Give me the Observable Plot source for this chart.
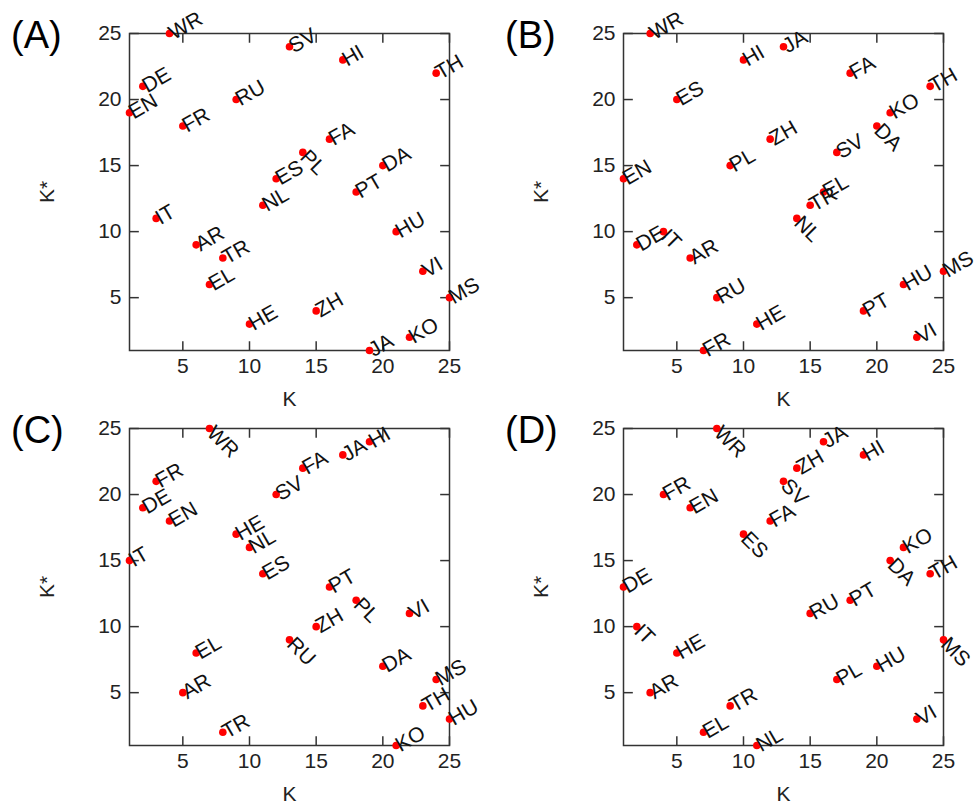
<!DOCTYPE html>
<html><head><meta charset="utf-8">
<script src="https://cdn.jsdelivr.net/npm/d3@7"></script>
<script src="https://cdn.jsdelivr.net/npm/@observablehq/plot@0.6"></script>
<style>
body{margin:0;background:#fff;font-family:"Liberation Sans",Arial,sans-serif;}
#wrap{position:relative;width:974px;height:807px;}
.p{position:absolute;}
.lt{position:absolute;font-size:38px;}
</style></head>
<body><div id="wrap"></div>
<script>
// language codes and (K, K*) per panel
const namesA = ["WR","SV","HI","TH","DE","RU","EN","FR","FA","PL","DA","ES","PT","NL","IT","HU","AR","TR","VI","EL","MS","ZH","HE","KO","JA"];
const kA     = [4,13,17,24,2,9,1,5,16,14,20,12,18,11,3,21,6,8,23,7,25,15,10,22,19];
const ksA    = [25,24,23,22,21,20,19,18,17,16,15,14,13,12,11,10,9,8,7,6,5,4,3,2,1];
const downA  = ["PL"];

const namesB = ["WR","JA","HI","FA","TH","ES","KO","DA","ZH","SV","PL","EN","EL","TR","NL","IT","DE","AR","MS","HU","RU","PT","HE","VI","FR"];
const kB     = [3,13,10,18,24,5,21,20,12,17,9,1,16,15,14,4,2,6,25,22,8,19,11,23,7];
const ksB    = [25,24,23,22,21,20,19,18,17,16,15,14,13,12,11,10,9,8,7,6,5,4,3,2,1];
const downB  = ["DA","NL","IT"];

const namesC = ["WR","HI","JA","FA","FR","SV","DE","EN","HE","NL","IT","ES","PT","PL","VI","ZH","RU","EL","DA","MS","AR","TH","HU","TR","KO"];
const kC     = [7,19,17,14,3,12,2,4,9,10,1,11,16,18,22,15,13,6,20,24,5,23,25,8,21];
const ksC    = [25,24,23,22,21,20,19,18,17,16,15,14,13,12,11,10,9,8,7,6,5,4,3,2,1];
const downC  = ["WR","PL","RU"];

const namesD = ["WR","JA","HI","ZH","SV","FR","EN","FA","ES","KO","DA","TH","DE","PT","RU","IT","MS","HE","HU","PL","AR","TR","VI","EL","NL"];
const kD     = [8,16,19,14,13,4,6,12,10,22,21,24,1,18,15,2,25,5,20,17,3,9,23,7,11];
const ksD    = [25,24,23,22,21,20,19,18,17,16,15,14,13,12,11,10,9,8,7,6,5,4,3,2,1];
const downD  = ["WR","SV","ES","DA","IT","MS"];

const ticks = [5,10,15,20,25];

const panels = [
  {tag:"(A)", names:namesA, k:kA, ks:ksA, down:downA, left:0, top:0},
  {tag:"(B)", names:namesB, k:kB, ks:ksB, down:downB, left:494, top:0},
  {tag:"(C)", names:namesC, k:kC, ks:ksC, down:downC, left:0, top:395},
  {tag:"(D)", names:namesD, k:kD, ks:ksD, down:downD, left:494, top:395}
];

const wrap = document.getElementById("wrap");
for (const p of panels) {
  const data = p.names.map((n, i) => ({n, k: p.k[i], ks: p.ks[i], down: p.down.includes(n)}));
  const tl = 0.7; // inward tick length in data units
  const chart = Plot.plot({
    width: 474, height: 405,
    marginLeft: 129, marginRight: 25, marginTop: 33, marginBottom: 55,
    style: {fontFamily: "Liberation Sans, Arial, sans-serif", fontSize: "21px", color: "#222", overflow: "visible"},
    x: {domain: [1, 25], ticks, tickSize: 0, tickPadding: 8, label: "K", labelAnchor: "center", labelOffset: 55, labelArrow: "none"},
    y: {domain: [1, 25], ticks, tickSize: 0, tickPadding: 8, label: "K*", labelAnchor: "center", labelOffset: 90, labelArrow: "none"},
    marks: [
      Plot.link(ticks, {x1: d => d, x2: d => d, y1: 1, y2: 1 + tl, stroke: "#333", strokeWidth: 1.5}),
      Plot.link(ticks, {x1: d => d, x2: d => d, y1: 25, y2: 25 - tl, stroke: "#333", strokeWidth: 1.5}),
      Plot.link(ticks, {y1: d => d, y2: d => d, x1: 1, x2: 1 + tl, stroke: "#333", strokeWidth: 1.5}),
      Plot.link(ticks, {y1: d => d, y2: d => d, x1: 25, x2: 25 - tl, stroke: "#333", strokeWidth: 1.5}),
      Plot.frame({stroke: "#333", strokeWidth: 1.5}),
      Plot.dot(data, {x: "k", y: "ks", r: 3.8, fill: "#f00", stroke: "none"}),
      Plot.text(data.filter(d => !d.down), {x: "k", y: "ks", text: "n", rotate: -30, textAnchor: "start", dx: 1, dy: 1, fontSize: 21, fill: "#111"}),
      Plot.text(data.filter(d => d.down), {x: "k", y: "ks", text: "n", rotate: 45, textAnchor: "start", dx: 1, dy: 1, fontSize: 21, fill: "#111"})
    ]
  });
  chart.classList.add("p");
  chart.style.left = p.left + "px";
  chart.style.top = p.top + "px";
  wrap.appendChild(chart);
  const t = document.createElement("div");
  t.className = "lt";
  t.textContent = p.tag;
  t.style.left = (p.left + 11) + "px";
  t.style.top = (p.top + 14) + "px";
  wrap.appendChild(t);
}
</script></body></html>
